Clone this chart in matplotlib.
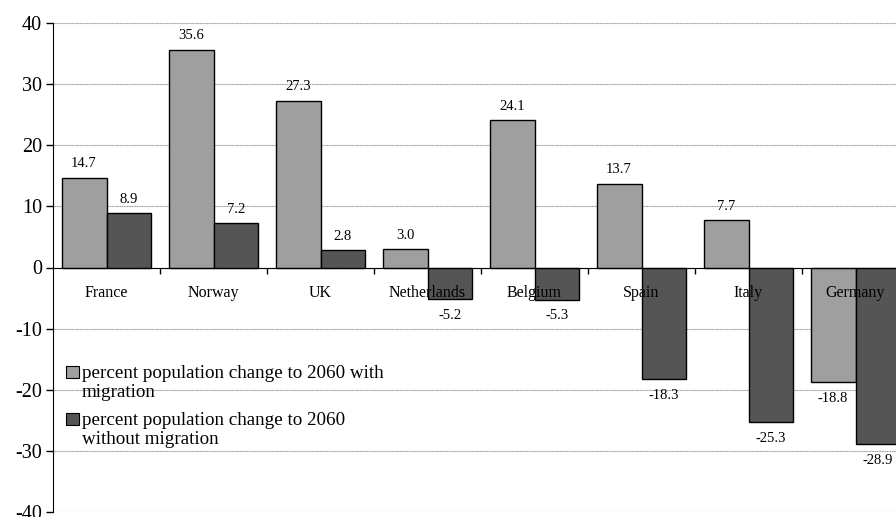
import matplotlib
matplotlib.use('Agg')
import matplotlib.pyplot as plt
from matplotlib.patches import Rectangle
import numpy as np

countries = ['France', 'Norway', 'UK', 'Netherlands', 'Belgium', 'Spain', 'Italy', 'Germany']
with_mig = [14.7, 35.6, 27.3, 3.0, 24.1, 13.7, 7.7, -18.8]
without_mig = [8.9, 7.2, 2.8, -5.2, -5.3, -18.3, -25.3, -28.9]
series_names = ['percent population change to 2060 with\nmigration',
                'percent population change to 2060\nwithout migration']
colors = ['#9f9f9f', '#555555']

plt.rcParams['font.family'] = ['Liberation Serif', 'DejaVu Serif']
plt.rcParams['axes.unicode_minus'] = False

W, H = 896, 517
fig = plt.figure(figsize=(W / 100, H / 100), dpi=100)
# the plot area runs past the right edge of the picture, as in the reference
ax = fig.add_axes([53 / W, 5 / H, 856 / W, 489 / H])

x = np.arange(len(countries))
w = 0.42
b1 = ax.bar(x - w / 2, with_mig, w, color=colors[0], edgecolor='black', linewidth=1, zorder=3)
b2 = ax.bar(x + w / 2, without_mig, w, color=colors[1], edgecolor='black', linewidth=1, zorder=3)

for bars, vals in ((b1, with_mig), (b2, without_mig)):
    for r, v in zip(bars, vals):
        cx = r.get_x() + r.get_width() / 2
        off = 14 if v >= 0 else -16
        ax.annotate(f'{v:.1f}', (cx, v), xytext=(0, off), textcoords='offset pixels',
                    ha='center', va='center', fontsize=10.5, zorder=5)

for i, c in enumerate(countries):
    ax.text(i, -4.1, c, ha='center', va='center', fontsize=11.5, zorder=6)

ax.set_xlim(-0.5, len(countries) - 0.5)
ax.set_ylim(-40, 40)
ax.set_yticks(np.arange(-40, 41, 10))
ax.tick_params(axis='y', labelsize=14.5, length=5, width=1, direction='out', pad=3)
ax.yaxis.grid(True, color='#999999', linewidth=0.8, linestyle=(0, (1, 0.5)), zorder=0)

ax.spines['bottom'].set_position(('data', 0))
ax.spines['bottom'].set_zorder(4)
ax.spines['top'].set_visible(False)
ax.spines['right'].set_visible(False)
ax.set_xticks(np.arange(0.5, len(countries) - 0.5, 1))
ax.set_xticklabels([])
ax.tick_params(axis='x', length=4, width=1, direction='out')

# legend drawn by hand: white panel, square keys aligned with the first text line
def px(xp, yp):
    return xp / W, 1 - yp / H

ax.add_patch(Rectangle(px(54, 475), 338 / W, 137 / H, transform=fig.transFigure,
                       facecolor='white', edgecolor='none', zorder=1))
for name, col, ytop in zip(series_names, colors, (372, 419)):
    ax.add_patch(Rectangle(px(66, ytop + 6), 13 / W, 12 / H, transform=fig.transFigure,
                           facecolor=col, edgecolor='black', linewidth=0.8, zorder=6))
    fig.text(*px(82, ytop - 7), name, ha='left', va='top', fontsize=13.7, linespacing=1.15)

fig.savefig('out.png', dpi=100)
